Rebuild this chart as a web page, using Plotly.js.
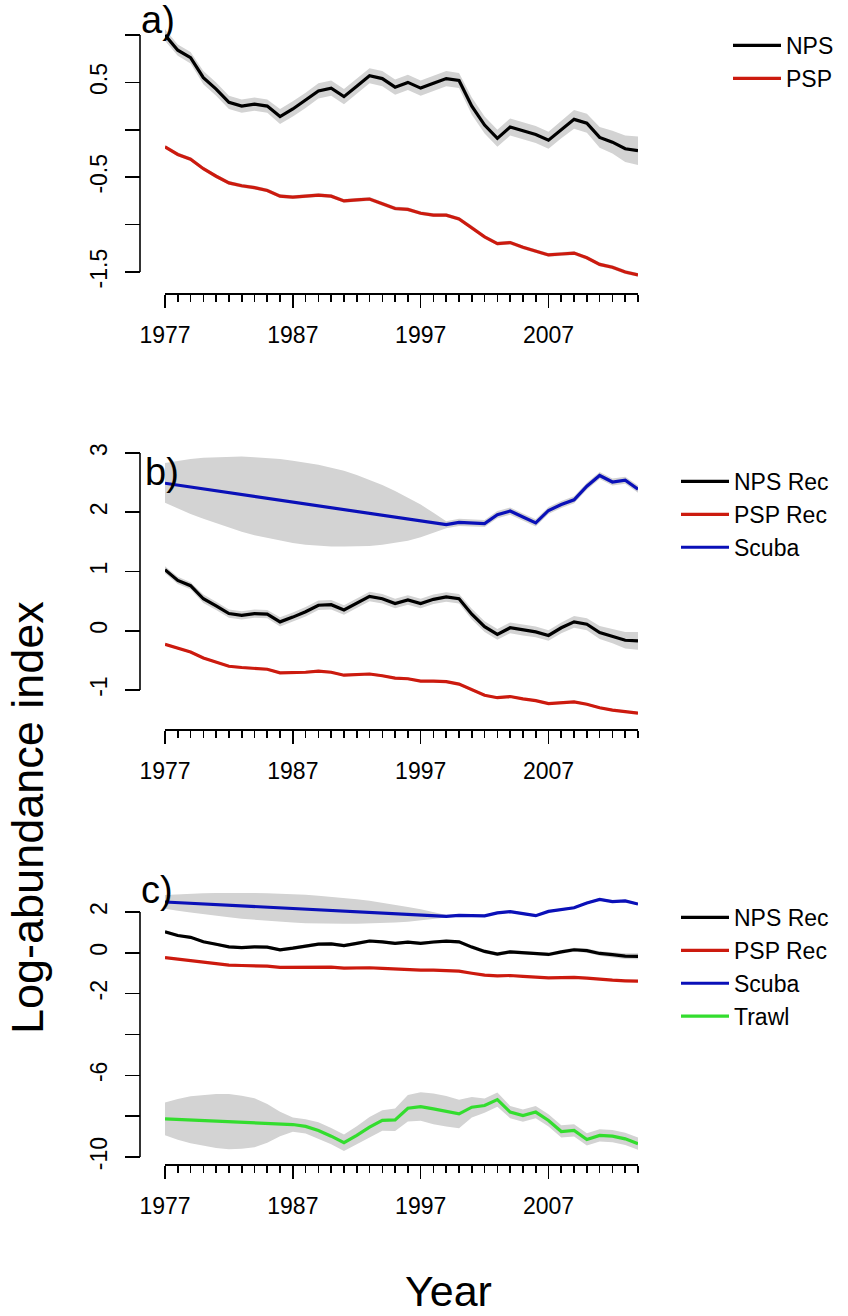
<!DOCTYPE html>
<html>
<head>
<meta charset="utf-8">
<script src="https://cdn.plot.ly/plotly-3.0.1.min.js"></script>
<style>html,body{margin:0;padding:0;background:#fff;}#chart{width:848px;height:1316px;}</style>
</head>
<body>
<div id="chart"></div>
<script>
// ---------------- DATA ----------------
const years = [1977,1978,1979,1980,1981,1982,1983,1984,1985,1986,1987,1988,1989,1990,1991,1992,1993,1994,1995,1996,1997,1998,1999,2000,2001,2002,2003,2004,2005,2006,2007,2008,2009,2010,2011,2012,2013,2014];

// Panel a
const npsA = [1.00,0.84,0.76,0.55,0.43,0.29,0.25,0.27,0.25,0.14,0.22,0.31,0.41,0.44,0.35,0.46,0.57,0.54,0.45,0.50,0.44,0.49,0.54,0.52,0.25,0.05,-0.09,0.03,-0.01,-0.05,-0.11,0.00,0.11,0.07,-0.08,-0.13,-0.20,-0.22];
const npsASe = [0.06,0.06,0.06,0.07,0.07,0.07,0.07,0.07,0.07,0.08,0.08,0.08,0.08,0.08,0.08,0.08,0.08,0.08,0.08,0.08,0.08,0.08,0.08,0.08,0.09,0.09,0.09,0.09,0.09,0.09,0.09,0.09,0.10,0.10,0.11,0.12,0.14,0.15];
const pspA = [-0.18,-0.26,-0.31,-0.41,-0.49,-0.56,-0.59,-0.61,-0.64,-0.70,-0.71,-0.70,-0.69,-0.70,-0.75,-0.74,-0.73,-0.78,-0.83,-0.84,-0.88,-0.90,-0.90,-0.94,-1.03,-1.13,-1.20,-1.19,-1.24,-1.28,-1.32,-1.31,-1.30,-1.35,-1.42,-1.45,-1.50,-1.53];
const pspASe = [0.02,0.02,0.02,0.02,0.02,0.02,0.02,0.02,0.02,0.02,0.02,0.02,0.02,0.02,0.02,0.02,0.02,0.02,0.02,0.02,0.02,0.02,0.02,0.02,0.02,0.02,0.02,0.02,0.02,0.02,0.02,0.02,0.02,0.02,0.02,0.02,0.02,0.02];

// Panels b and c
const npsRec = [1.03,0.85,0.76,0.54,0.42,0.29,0.26,0.29,0.28,0.15,0.23,0.32,0.43,0.44,0.35,0.46,0.58,0.54,0.46,0.52,0.46,0.53,0.57,0.54,0.28,0.07,-0.06,0.05,0.01,-0.02,-0.08,0.05,0.15,0.11,-0.03,-0.09,-0.16,-0.17];
const npsRecSe = [0.06,0.06,0.06,0.07,0.07,0.07,0.07,0.07,0.07,0.08,0.08,0.08,0.08,0.08,0.08,0.08,0.08,0.08,0.08,0.08,0.08,0.08,0.08,0.08,0.09,0.09,0.09,0.09,0.09,0.09,0.09,0.09,0.10,0.10,0.11,0.12,0.14,0.15];
const pspRec = [-0.23,-0.30,-0.36,-0.46,-0.53,-0.60,-0.62,-0.64,-0.65,-0.71,-0.71,-0.70,-0.68,-0.70,-0.75,-0.74,-0.73,-0.76,-0.80,-0.81,-0.85,-0.85,-0.86,-0.90,-1.00,-1.09,-1.13,-1.11,-1.15,-1.18,-1.23,-1.21,-1.20,-1.24,-1.30,-1.34,-1.37,-1.39];
const pspRecSe = [0.02,0.02,0.02,0.02,0.02,0.02,0.02,0.02,0.02,0.02,0.02,0.02,0.02,0.02,0.02,0.02,0.02,0.02,0.02,0.02,0.02,0.02,0.02,0.02,0.02,0.02,0.02,0.02,0.02,0.02,0.02,0.02,0.02,0.02,0.02,0.02,0.02,0.02];

// Scuba survey (no values 1978-1998)
const scuba = [2.49,null,null,null,null,null,null,null,null,null,null,null,null,null,null,null,null,null,null,null,null,null,1.79,1.83,1.82,1.81,1.96,2.02,1.92,1.82,2.03,2.13,2.21,2.44,2.62,2.51,2.54,2.39];
const scubaLo = [2.16,2.06,1.97,1.89,1.81,1.74,1.67,1.61,1.56,1.52,1.48,1.45,1.43,1.42,1.42,1.42,1.43,1.45,1.48,1.52,1.58,1.65,1.73,1.77,1.76,1.75,1.90,1.96,1.86,1.76,1.97,2.07,2.15,2.38,2.56,2.45,2.48,2.33];
const scubaHi = [2.83,2.87,2.90,2.92,2.93,2.94,2.94,2.93,2.92,2.90,2.87,2.84,2.80,2.75,2.70,2.63,2.55,2.46,2.36,2.25,2.13,1.99,1.85,1.89,1.88,1.87,2.02,2.08,1.98,1.88,2.09,2.19,2.27,2.50,2.68,2.57,2.60,2.45];

// Trawl survey (no values 1978-1986)
const trawl = [-8.13,null,null,null,null,null,null,null,null,null,-8.41,-8.50,-8.70,-8.98,-9.30,-8.94,-8.54,-8.21,-8.18,-7.61,-7.53,-7.64,-7.76,-7.89,-7.56,-7.48,-7.19,-7.80,-7.97,-7.80,-8.21,-8.75,-8.70,-9.14,-8.94,-8.98,-9.11,-9.35];
const trawlLo = [-8.93,-9.16,-9.33,-9.46,-9.56,-9.62,-9.60,-9.52,-9.30,-8.98,-8.76,-8.85,-9.10,-9.38,-9.70,-9.39,-9.04,-8.71,-8.73,-8.26,-8.23,-8.39,-8.51,-8.59,-8.06,-7.83,-7.54,-8.10,-8.27,-8.10,-8.51,-9.05,-9.00,-9.44,-9.24,-9.28,-9.41,-9.65];
const trawlHi = [-7.33,-7.16,-7.03,-6.96,-6.92,-6.92,-7.00,-7.12,-7.40,-7.78,-8.06,-8.15,-8.30,-8.58,-8.90,-8.49,-8.04,-7.71,-7.63,-6.96,-6.83,-6.89,-7.01,-7.19,-7.06,-7.13,-6.84,-7.50,-7.67,-7.50,-7.91,-8.45,-8.40,-8.84,-8.64,-8.68,-8.81,-9.05];

// Tick labels
const majorYears = [1977,1982,1987,1992,1997,2002,2007,2012];
const yearLabels = ['1977','','1987','','1997','','2007',''];
const ticksA = [-1.5,-1,-0.5,0,0.5,1];
const labelsA = ['-1.5','','-0.5','','0.5',''];
const ticksB = [-1,0,1,2,3];
const labelsB = ['-1','0','1','2','3'];
const ticksC = [-10,-8,-6,-4,-2,0,2];
const labelsC = ['-10','','-6','','-2','0','2'];

// ---------------- LAYOUT HELPERS ----------------
const W = 848, H = 1316;
const FONT = 'Liberation Sans, Arial, Helvetica, sans-serif';
const fx = p => p / W;
const fy = p => 1 - p / H;
const GREY = '#d3d3d3';
const COLORS = {black:'#000000', red:'#cc1a0e', blue:'#0a10b8', green:'#33dd2e'};

function yDomain(vTop, pxTop, vBot, pxBot, rmin, rmax) {
  const s = (pxBot - pxTop) / (vTop - vBot);
  const pTop = pxTop - (rmax - vTop) * s;
  const pBot = pxBot + (vBot - rmin) * s;
  return [fy(pBot), fy(pTop)];
}

const xDom = [fx(165), fx(638)];

function xAxis(linePx) {
  return {
    domain: xDom, range: [1977, 2014], anchor: 'free', position: fy(linePx),
    showline: true, linecolor: '#000', linewidth: 1.6, mirror: false,
    ticks: 'outside', ticklen: 13, tickwidth: 1.6, tickcolor: '#000',
    tickmode: 'array', tickvals: majorYears, ticktext: yearLabels,
    ticklabelstandoff: 8,
    tickfont: {family: FONT, size: 23, color: '#000'},
    minor: {tickmode: 'array', tickvals: years, ticks: 'outside', ticklen: 7, tickwidth: 1.6, tickcolor: '#000', showgrid: false},
    showgrid: false, zeroline: false, fixedrange: true
  };
}
function yAxis(dom, range, tv, tt) {
  return {
    domain: dom, range: range, anchor: 'free', position: fx(140),
    showline: false, ticks: 'outside', ticklen: 15, tickwidth: 1.6, tickcolor: '#000',
    tickmode: 'array', tickvals: tv, ticktext: tt, tickangle: -90,
    ticklabelstandoff: 9,
    tickfont: {family: FONT, size: 23, color: '#000'},
    showgrid: false, zeroline: false, fixedrange: true
  };
}

// ---------------- TRACES ----------------
const traces = [];
function band(lo, hi, xa, ya) {
  traces.push({
    x: years.concat(years.slice().reverse()),
    y: hi.concat(lo.slice().reverse()),
    xaxis: xa, yaxis: ya, type: 'scatter', mode: 'lines',
    fill: 'toself', fillcolor: GREY, line: {width: 0, color: GREY},
    hoverinfo: 'skip', showlegend: false
  });
}
function bandSe(vals, se, xa, ya) {
  band(vals.map((v, i) => v - se[i]), vals.map((v, i) => v + se[i]), xa, ya);
}
function line(vals, name, color, xa, ya, legend) {
  traces.push({
    x: years, y: vals, name: name, xaxis: xa, yaxis: ya, type: 'scatter', mode: 'lines',
    connectgaps: true, line: {color: color, width: 3.2}, legend: legend
  });
}

// Panel a
bandSe(npsA, npsASe, 'x', 'y');
bandSe(pspA, pspASe, 'x', 'y');
line(npsA, 'NPS', COLORS.black, 'x', 'y', 'legend');
line(pspA, 'PSP', COLORS.red, 'x', 'y', 'legend');

// Panel b
band(scubaLo, scubaHi, 'x2', 'y2');
bandSe(npsRec, npsRecSe, 'x2', 'y2');
bandSe(pspRec, pspRecSe, 'x2', 'y2');
line(npsRec, 'NPS Rec', COLORS.black, 'x2', 'y2', 'legend2');
line(pspRec, 'PSP Rec', COLORS.red, 'x2', 'y2', 'legend2');
line(scuba, 'Scuba', COLORS.blue, 'x2', 'y2', 'legend2');

// Panel c
band(scubaLo, scubaHi, 'x3', 'y3');
band(trawlLo, trawlHi, 'x3', 'y3');
bandSe(npsRec, npsRecSe, 'x3', 'y3');
bandSe(pspRec, pspRecSe, 'x3', 'y3');
line(npsRec, 'NPS Rec', COLORS.black, 'x3', 'y3', 'legend3');
line(pspRec, 'PSP Rec', COLORS.red, 'x3', 'y3', 'legend3');
line(scuba, 'Scuba', COLORS.blue, 'x3', 'y3', 'legend3');
line(trawl, 'Trawl', COLORS.green, 'x3', 'y3', 'legend3');

// ---------------- LAYOUT ----------------
const rangeA = [-1.62, 1.14];
const rangeB = [-1.5, 3.1];
const rangeC = [-10.3, 3.2];

function axisLine(yref, tv) {
  return {type: 'line', xref: 'paper', yref: yref, x0: fx(140), x1: fx(140),
    y0: Math.min(...tv), y1: Math.max(...tv), line: {color: '#000', width: 1.6}, layer: 'above'};
}
function legendBox(xPx, yPx) {
  return {x: fx(xPx), y: fy(yPx), xanchor: 'left', yanchor: 'top', xref: 'paper', yref: 'paper',
    bgcolor: 'rgba(0,0,0,0)', borderwidth: 0, font: {family: FONT, size: 23, color: '#000'},
    itemwidth: 48, tracegroupgap: 0};
}
function panelLabel(t, xPx, yPx) {
  return {text: t, xref: 'paper', yref: 'paper', x: fx(xPx), y: fy(yPx), xanchor: 'left', yanchor: 'middle',
    showarrow: false, font: {family: FONT, size: 38, color: '#000'}};
}

const layout = {
  width: W, height: H,
  margin: {l: 0, r: 0, t: 0, b: 0},
  paper_bgcolor: '#fff', plot_bgcolor: 'rgba(0,0,0,0)',
  showlegend: true,
  xaxis: xAxis(293),
  yaxis: yAxis(yDomain(1, 35, -1.5, 272, rangeA[0], rangeA[1]), rangeA, ticksA, labelsA),
  xaxis2: xAxis(729),
  yaxis2: yAxis(yDomain(3, 453, -1, 690, rangeB[0], rangeB[1]), rangeB, ticksB, labelsB),
  xaxis3: xAxis(1164),
  yaxis3: yAxis(yDomain(2, 912, -10, 1157, rangeC[0], rangeC[1]), rangeC, ticksC, labelsC),
  legend: legendBox(728, 24),
  legend2: legendBox(676, 460),
  legend3: legendBox(676, 896),
  shapes: [axisLine('y', ticksA), axisLine('y2', ticksB), axisLine('y3', ticksC)],
  annotations: [
    panelLabel('a)', 139, 20),
    panelLabel('b)', 143, 472),
    panelLabel('c)', 139, 890),
    {text: 'Log-abundance index', xref: 'paper', yref: 'paper', x: fx(27), y: fy(818), textangle: -90,
      xanchor: 'center', yanchor: 'middle', showarrow: false, font: {family: FONT, size: 45, color: '#000'}},
    {text: 'Year', xref: 'paper', yref: 'paper', x: fx(448), y: fy(1291), 
      xanchor: 'center', yanchor: 'middle', showarrow: false, font: {family: FONT, size: 43, color: '#000'}}
  ]
};

Plotly.newPlot('chart', traces, layout, {staticPlot: true, displayModeBar: false});
</script>
</body>
</html>
